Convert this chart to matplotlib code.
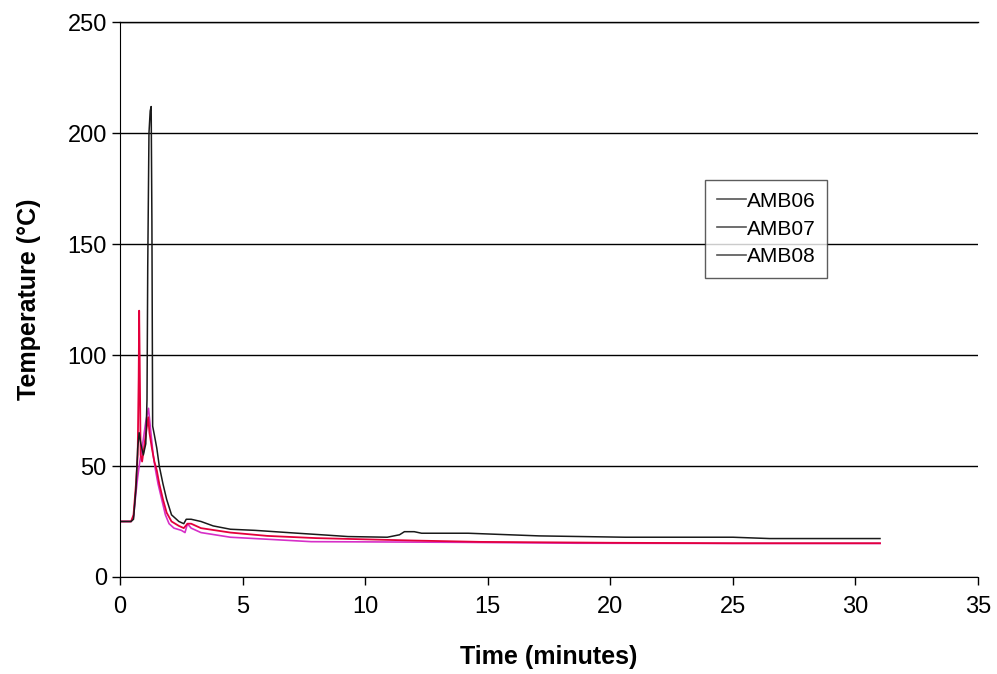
import matplotlib
matplotlib.use('Agg')
from matplotlib import pyplot as plt
from matplotlib.lines import Line2D

plt.rcParams['font.family'] = ['Liberation Sans', 'DejaVu Sans']

# AMB06 thermocouple (minutes, deg C)
amb06_time = [0, 0.45, 0.55, 0.65, 0.72, 0.78, 0.85, 0.95, 1.05, 1.1, 1.13, 1.18, 1.23, 1.27,
              1.3, 1.33, 1.4, 1.5, 1.6, 1.75, 1.9, 2.1, 2.4, 2.6, 2.7, 2.9, 3.3, 3.8, 4.5,
              5.5, 7.25, 8.5, 9.3, 10.9, 11.4, 11.6, 12.0, 12.3, 14.2, 17.1, 20.6, 25.0, 26.5, 31.0]
amb06_temp = [25, 25, 26, 40, 58, 65, 60, 55, 60, 80, 140, 200, 210, 212,
              160, 68, 64, 58, 50, 42, 35, 28, 25, 24, 26, 26, 25, 23, 21.5,
              21, 19.7, 18.8, 18.2, 17.9, 19, 20.4, 20.4, 19.7, 19.7, 18.5, 17.9, 17.9, 17.3, 17.3]

# AMB07 thermocouple
amb07_time = [0, 0.45, 0.55, 0.65, 0.72, 0.76, 0.78, 0.8, 0.84, 0.9, 1.0, 1.1, 1.15, 1.2, 1.3,
              1.4, 1.5, 1.6, 1.75, 1.9, 2.1, 2.4, 2.6, 2.75, 2.9, 3.3, 4.5, 6.0, 8.0,
              10.9, 12.0, 14.7, 20.0, 25.0, 31.0]
amb07_temp = [25, 25, 28, 42, 55, 90, 120, 100, 55, 52, 60, 68, 72, 65, 58,
              52, 48, 42, 35, 29, 25, 23, 22, 24, 24, 22, 20, 18.5, 17.5,
              16.7, 16.4, 15.8, 15.4, 15.2, 15.2]

# AMB08 thermocouple
amb08_time = [0, 0.45, 0.55, 0.65, 0.72, 0.78, 0.85, 0.95, 1.05, 1.16, 1.25, 1.35, 1.45, 1.55,
              1.7, 1.85, 2.0, 2.2, 2.5, 2.65, 2.75, 2.9, 3.3, 4.5, 6.0, 7.8, 10.0, 14.0,
              18.6, 25.0, 31.0]
amb08_temp = [25, 25, 27, 38, 45, 50, 55, 62, 70, 76, 66, 55, 48, 42,
              35, 28, 24, 22, 21, 20, 24, 22, 20, 17.9, 17, 15.9, 15.8, 15.6,
              15.2, 15.1, 15.1]

series_names = ['AMB06', 'AMB07', 'AMB08']

fig = plt.figure(figsize=(9.97, 6.74), dpi=100)
ax = fig.add_axes([0.1204, 0.144, 0.8606, 0.823])

ax.plot(amb08_time, amb08_temp, color='#d62fc8', lw=1.2)
ax.plot(amb07_time, amb07_temp, color='#e3003c', lw=1.3)
ax.plot(amb06_time, amb06_temp, color='#1a1a1a', lw=1.1)

ax.set_xlim(0, 35)
ax.set_ylim(0, 250)
ax.set_xticks(range(0, 36, 5))
ax.set_yticks(range(0, 251, 50))
ax.yaxis.grid(True, color='black', lw=1)
ax.set_axisbelow(True)
ax.spines['right'].set_visible(False)
ax.spines['top'].set_visible(False)
ax.axhline(250, color='black', lw=1, clip_on=False)
ax.tick_params(axis='both', direction='out', length=6, width=1, labelsize=17, colors='black')
ax.tick_params(axis='x', pad=8)

ax.set_xlabel('Time (minutes)', fontsize=18, fontweight='bold', labelpad=19)
ax.set_ylabel('Temperature (\u00b0C)', fontsize=18, fontweight='bold', labelpad=19)

# legend keys are drawn in a plain grey
handles = [Line2D([], [], color='#555555', lw=1.2) for _ in series_names]
leg = ax.legend(handles, series_names, loc='upper left', bbox_to_anchor=(0.682, 0.715),
                fontsize=15, frameon=True, fancybox=False, handlelength=1.4,
                handletextpad=0.05, labelspacing=0.42, borderpad=0.55, borderaxespad=0)
leg.get_frame().set_edgecolor('#333333')
leg.get_frame().set_linewidth(1)

fig.savefig('out.png', dpi=100)
